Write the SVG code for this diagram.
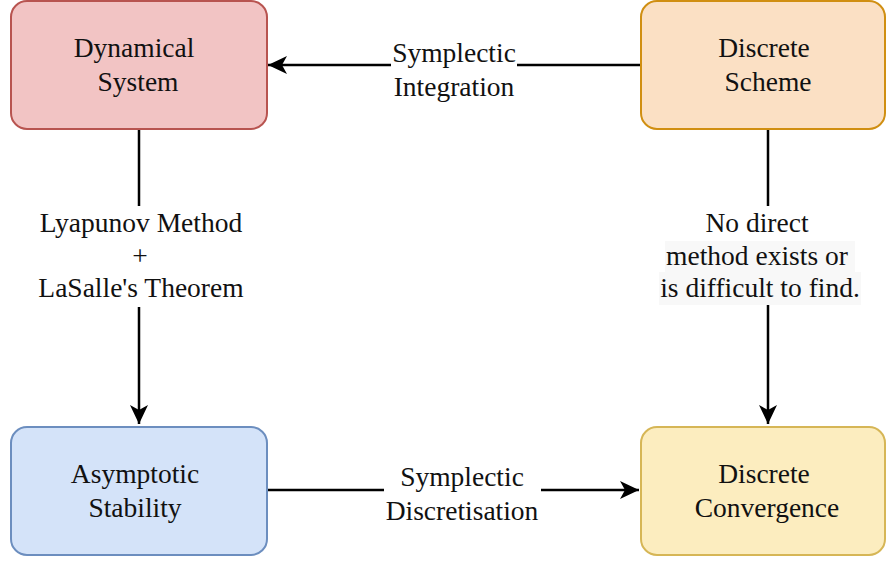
<svg xmlns="http://www.w3.org/2000/svg" width="886" height="561" viewBox="0 0 886 561">
<style>
text{font-family:"Liberation Serif","Times New Roman",serif;font-size:27.5px;fill:#111;text-anchor:middle}
.box{stroke-width:2}
.edge{stroke:#000;stroke-width:2.5;fill:none}
</style>
<defs>
<marker id="arr" viewBox="0 0 20 20" refX="19" refY="10" markerWidth="20" markerHeight="20" markerUnits="userSpaceOnUse" orient="auto">
<path d="M0,1 L19,10 L0,19 L5,10 Z" fill="#000"/>
</marker>
</defs>
<rect width="886" height="561" fill="#fff"/>
<g id="connectors">
<path class="edge" d="M641,65 H268" marker-end="url(#arr)"/>
<path class="edge" d="M139,129 V424" marker-end="url(#arr)"/>
<path class="edge" d="M768,129 V424" marker-end="url(#arr)"/>
<path class="edge" d="M267,490 H639" marker-end="url(#arr)"/>
<g id="label-top">
<rect x="391" y="38" width="126" height="66" fill="#fff"/>
<text x="454" y="62">Symplectic</text>
<text x="454" y="96">Integration</text>
</g>
<g id="label-left">
<rect x="38" y="206" width="206" height="101" fill="#fff"/>
<text x="141" y="232">Lyapunov Method</text>
<text x="140" y="265">+</text>
<text x="141" y="297">LaSalle's Theorem</text>
</g>
<g id="label-right">
<rect x="703" y="206" width="108" height="35" fill="#fff"/>
<rect x="665" y="241" width="190" height="31" fill="#f8f8f8"/>
<rect x="659" y="272" width="202" height="33" fill="#f8f8f8"/>
<text x="757" y="232">No direct</text>
<text x="757" y="265">method exists or</text>
<text x="760" y="297">is difficult to find.</text>
</g>
<g id="label-bottom">
<rect x="384" y="460" width="157" height="68" fill="#fff"/>
<text x="462" y="486">Symplectic</text>
<text x="462" y="520">Discretisation</text>
</g>
</g>
<g id="dynamical-system">
<rect class="box" x="11" y="1" width="256" height="128" rx="16" fill="#f2c4c4" stroke="#b85450"/>
<text x="134" y="57">Dynamical</text>
<text x="138" y="91">System</text>
</g>
<g id="discrete-scheme">
<rect class="box" x="641" y="1" width="244" height="128" rx="16" fill="#fbe0c4" stroke="#d08f12"/>
<text x="764" y="57">Discrete</text>
<text x="768" y="91">Scheme</text>
</g>
<g id="asymptotic-stability">
<rect class="box" x="11" y="427" width="256" height="128" rx="16" fill="#d4e3f9" stroke="#6c8ebf"/>
<text x="135" y="483">Asymptotic</text>
<text x="135" y="517">Stability</text>
</g>
<g id="discrete-convergence">
<rect class="box" x="641" y="427" width="244" height="128" rx="16" fill="#fcedbf" stroke="#d6b656"/>
<text x="764" y="483">Discrete</text>
<text x="767" y="517">Convergence</text>
</g>
</svg>
